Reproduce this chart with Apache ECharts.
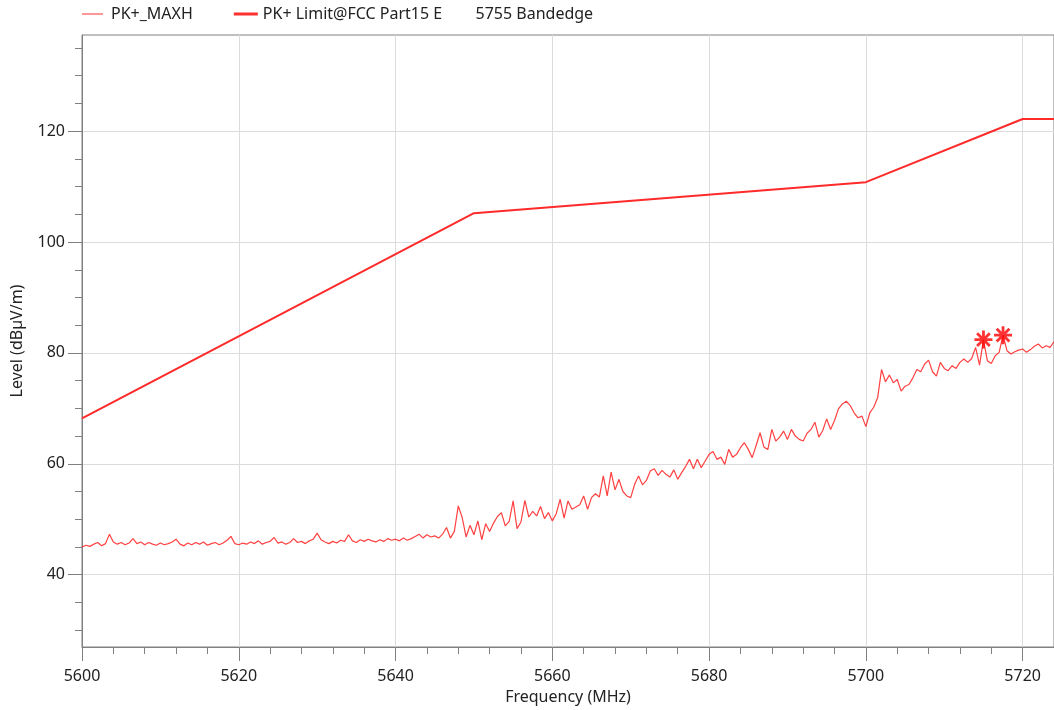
<!DOCTYPE html>
<html>
<head>
<meta charset="utf-8">
<script src="https://cdn.jsdelivr.net/npm/echarts@6/dist/echarts.min.js"></script>
<style>
html,body{margin:0;padding:0;background:#fff;}
#chart{width:1054px;height:710px;}
</style>
</head>
<body>
<div id="chart"></div>
<script>
// ---- data ----
const freqStart = 5600;
const freqStep = 0.5;
const maxhValues = [
45.0,45.3,45.1,45.5,45.8,45.2,45.6,47.3,45.9,45.5,
45.8,45.4,45.7,46.5,45.6,45.9,45.4,45.8,45.5,45.3,
45.7,45.4,45.6,45.9,46.4,45.5,45.2,45.7,45.4,45.8,
45.5,45.9,45.3,45.6,45.8,45.4,45.7,46.2,46.9,45.6,
45.4,45.7,45.5,45.9,45.6,46.1,45.5,45.8,46.0,46.7,
45.7,45.9,45.5,45.8,46.5,45.8,46.0,45.6,46.1,46.4,
47.5,46.3,45.9,45.6,46.0,45.7,46.2,46.0,47.2,46.1,
45.8,46.3,46.0,46.4,46.1,45.9,46.3,46.0,46.5,46.2,
46.4,46.1,46.6,46.2,46.5,46.9,47.3,46.6,47.2,46.8,
47.0,46.6,47.3,48.5,46.6,47.8,52.4,50.3,46.8,48.9,
47.2,49.7,46.3,49.2,47.8,49.3,50.5,51.2,48.8,49.6,
53.3,48.3,49.5,53.4,50.4,51.4,50.6,52.3,50.1,51.2,
49.7,51.0,53.6,50.2,53.3,51.8,52.2,52.6,54.2,51.8,
53.9,54.6,54.0,57.8,54.2,58.5,55.3,57.2,55.0,54.2,
53.9,56.3,57.8,56.2,57.0,58.7,59.1,57.9,58.8,58.1,
57.6,58.9,57.2,58.4,59.5,60.8,59.1,60.8,59.3,60.5,
61.7,62.2,60.8,61.2,59.9,62.6,61.2,61.7,62.9,63.8,
62.6,61.1,63.3,65.6,63.0,62.6,66.2,64.1,64.8,65.9,
64.4,66.2,65.0,64.4,64.1,65.5,66.2,67.5,64.8,66.0,
68.1,66.2,67.8,69.9,70.8,71.3,70.5,69.2,68.3,68.6,
66.7,69.2,70.2,71.9,77.0,74.8,76.0,74.6,75.2,73.1,
74.0,74.3,75.5,77.0,76.6,78.0,78.7,76.6,75.8,78.3,
77.2,76.8,77.7,77.2,78.3,78.9,78.3,79.0,81.0,77.8,
82.4,78.6,78.1,79.5,80.1,83.2,80.4,79.8,80.2,80.5,
80.7,80.1,80.6,81.2,81.6,80.9,81.3,81.0,82.0
];
const limitFreqs = [5600, 5650, 5700, 5720, 5724];
const limitValues = [68.2, 105.2, 110.8, 122.2, 122.2];
const markerFreqs = [5715, 5717.5];
const markerValues = [82.4, 83.2];
const xTickLabels = [5600, 5620, 5640, 5660, 5680, 5700, 5720];
const xMinorTicks = [5604,5608,5612,5616,5624,5628,5632,5636,5644,5648,5652,5656,5664,5668,5672,5676,5684,5688,5692,5696,5704,5708,5712,5716];
const yTickLabels = [40, 60, 80, 100, 120];
const yMinorTicks = [30,35,45,50,55,65,70,75,85,90,95,105,110,115,125,130,135];
const xMin = 5600, xMax = 5724;
const yMin = 26.95, yMax = 137.35;
const seriesNames = ['PK+_MAXH', 'PK+ Limit@FCC Part15 E        5755 Bandedge'];

// ---- build ----
const maxhData = maxhValues.map((v, i) => [freqStart + i * freqStep, v]);
const limitData = limitFreqs.map((f, i) => [f, limitValues[i]]);
const markerData = markerFreqs.map((f, i) => [f, markerValues[i]]);

const FONT = 'Noto Sans';
const TXT = '#222';
const AX = '#808080';
const asterisk = 'path://M-1.4,-9L1.4,-9L1.4,9L-1.4,9ZM-9,-1.4L9,-1.4L9,1.4L-9,1.4ZM-5.37,-7.35L7.35,5.37L5.37,7.35L-7.35,-5.37ZM-7.35,5.37L5.37,-7.35L7.35,-5.37L-5.37,7.35Z';
// legend icons: a line drawn inside a 24x14 box (tiny corner marks keep the box)
const iconThin = 'path://M0,0L0.01,0L0,0.01ZM0,6.5L21,6.5L21,7.5L0,7.5ZM24,14L23.99,14L24,13.99Z';
const iconThick = 'path://M0,0L0.01,0L0,0.01ZM0,5.6L24,5.6L24,8.4L0,8.4ZM24,14L23.99,14L24,13.99Z';

const chart = echarts.init(document.getElementById('chart'), null, {renderer: 'canvas'});
chart.setOption({
  animation: false,
  backgroundColor: '#fff',
  textStyle: {fontFamily: FONT},
  legend: {
    left: 77, top: 1,
    itemWidth: 24, itemHeight: 14, itemGap: 41,
    textStyle: {fontFamily: FONT, fontSize: 16, color: TXT},
    data: [
      {name: seriesNames[0], icon: iconThin, itemStyle: {color: '#ff3030'}},
      {name: seriesNames[1], icon: iconThick, itemStyle: {color: '#ff3030'}}
    ]
  },
  grid: {left: 82, right: -1, top: 35, bottom: 62, show: true, borderColor: AX, borderWidth: 1, backgroundColor: 'transparent'},
  xAxis: [{
    type: 'value', min: xMin, max: xMax, position: 'bottom',
    axisLine: {lineStyle: {color: AX, width: 1}},
    axisTick: {customValues: xTickLabels, length: 14, lineStyle: {color: AX}},
    axisLabel: {customValues: xTickLabels, margin: 21, fontSize: 16, color: TXT, fontFamily: FONT,
      formatter: v => String(v)},
    splitLine: {show: true, lineStyle: {color: '#dcdcdc', width: 1}},
    name: 'Frequency (MHz)', nameLocation: 'middle', nameGap: 42,
    nameTextStyle: {fontSize: 16, color: TXT, fontFamily: FONT}
  }, {
    type: 'value', min: xMin, max: xMax, position: 'bottom', offset: 0,
    axisLine: {show: false},
    axisTick: {customValues: xMinorTicks, length: 7, lineStyle: {color: AX}},
    axisLabel: {show: false},
    splitLine: {show: false}
  }],
  yAxis: [{
    type: 'value', min: yMin, max: yMax, position: 'left',
    axisLine: {show: true, lineStyle: {color: AX, width: 1}},
    axisTick: {show: true, customValues: yTickLabels, length: 14, lineStyle: {color: AX}},
    axisLabel: {customValues: yTickLabels, margin: 17, fontSize: 16, color: TXT, fontFamily: FONT,
      formatter: v => String(v)},
    splitLine: {show: true, lineStyle: {color: '#dcdcdc', width: 1}},
    name: 'Level (dBµV/m)', nameLocation: 'middle', nameGap: 57,
    nameTextStyle: {fontSize: 16, color: TXT, fontFamily: FONT}
  }, {
    type: 'value', min: yMin, max: yMax, position: 'left', offset: 0,
    axisLine: {show: false},
    axisTick: {show: true, customValues: yMinorTicks, length: 7, lineStyle: {color: AX}},
    axisLabel: {show: false},
    splitLine: {show: false}
  }],
  series: [{
    name: seriesNames[0], type: 'line', data: maxhData, showSymbol: false, symbol: 'none',
    lineStyle: {color: '#ff2020', width: 1.2, opacity: 0.85}, itemStyle: {color: '#ff2020'},
    z: 3
  }, {
    name: seriesNames[1], type: 'line', data: limitData, showSymbol: false, symbol: 'none',
    lineStyle: {color: '#ff2a2a', width: 2}, itemStyle: {color: '#ff2a2a'},
    z: 2
  }, {
    name: 'markers', type: 'scatter', data: markerData,
    symbol: asterisk, symbolSize: 18, itemStyle: {color: '#ff0000'}, z: 5
  }]
});
</script>
</body>
</html>
